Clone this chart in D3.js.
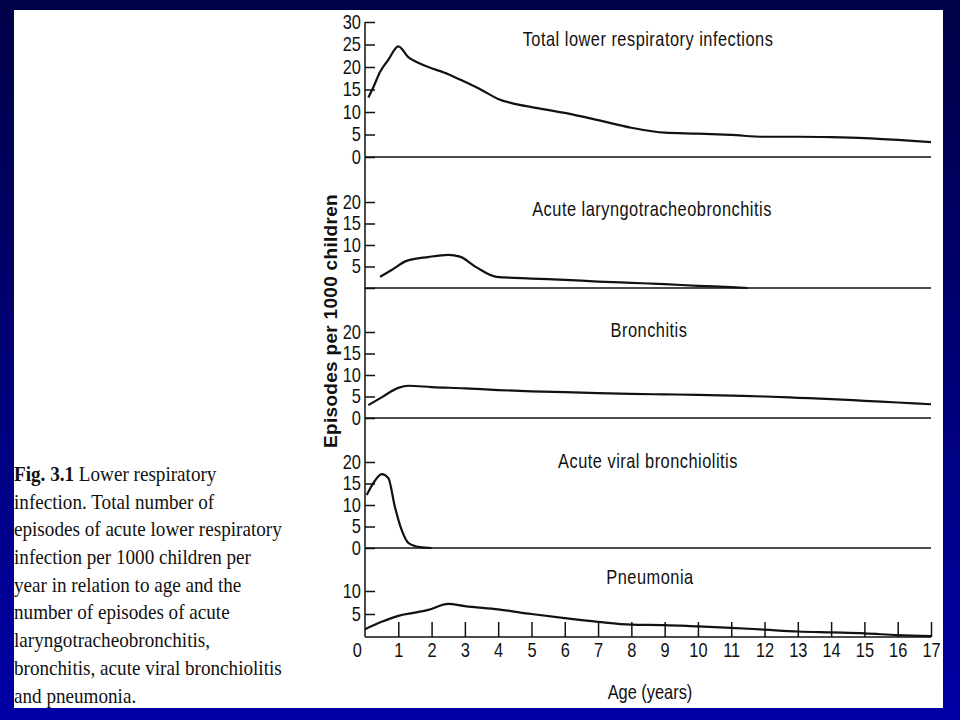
<!DOCTYPE html>
<html>
<head>
  <meta charset="utf-8">
  <title>Lower respiratory infection by age</title>
  <script src="https://d3js.org/d3.v7.min.js"></script>
  <style>
    body { margin: 0; }
    .narrow, .tick text { font-family: "Liberation Sans", Arial, sans-serif; font-size: 20px; fill: #111; }
    .title { letter-spacing: 0.6px; }
    .tick line, .axis-line, .zero { stroke: #111; stroke-width: 1.5; }
    .curve { fill: none; stroke: #111; stroke-width: 2.2; }
    .caption { font-family: "Liberation Serif", "Times New Roman", serif; font-size: 22px; fill: #111; }
  </style>
</head>
<body>

  <svg width="960" height="720"></svg>

  <script>
    // Ages (years) and episodes per 1000 children
    const totalAge = [0.1, 0.25, 0.45, 0.7, 1, 1.3, 1.55, 1.9, 2.5, 3, 3.5, 4, 4.5, 5, 6, 7, 8, 9, 10, 11, 12, 13, 14, 15, 16, 17];
    const totalVal = [13.2, 15.5, 18.9, 21.6, 24.6, 22.2, 21.1, 20, 18.4, 16.7, 14.9, 12.9, 11.8, 11.1, 9.8, 8.2, 6.5, 5.4, 5.2, 4.9, 4.5, 4.5, 4.4, 4.2, 3.8, 3.3];

    const laryngoAge = [0.45, 0.8, 1.25, 1.9, 2.5, 2.85, 3.35, 3.95, 5, 6, 7, 8, 9, 10, 11, 11.5];
    const laryngoVal = [2.6, 4.2, 6.3, 7.2, 7.7, 7.3, 4.8, 2.6, 2.2, 1.9, 1.5, 1.2, 0.9, 0.5, 0.2, 0];

    const bronchitisAge = [0.1, 0.5, 1, 1.3, 2, 3, 4, 5, 6, 7, 8, 9, 10, 11, 12, 13, 14, 15, 16, 17];
    const bronchitisVal = [3.0, 4.8, 7.0, 7.5, 7.2, 6.9, 6.5, 6.2, 6.0, 5.8, 5.6, 5.5, 5.4, 5.2, 5.0, 4.7, 4.4, 4.0, 3.6, 3.2];

    const bronchiolitisAge = [0.05, 0.25, 0.5, 0.7, 0.9, 1.1, 1.3, 1.65, 2];
    const bronchiolitisVal = [12.3, 15.1, 17.2, 16.3, 9.5, 4.2, 1.2, 0.2, 0];

    const pneumoniaAge = [0, 0.5, 1, 1.5, 1.9, 2.5, 3, 4, 5, 6, 7, 8, 9, 10, 11, 12, 13, 14, 15, 16, 17];
    const pneumoniaVal = [1.7, 3.3, 4.6, 5.3, 5.9, 7.2, 6.7, 6.0, 5.0, 4.1, 3.3, 2.7, 2.6, 2.3, 2.0, 1.6, 1.2, 1.0, 0.8, 0.4, 0.2];

    const panelTitles = ["Total lower respiratory infections", "Acute laryngotracheobronchitis", "Bronchitis", "Acute viral bronchiolitis", "Pneumonia"];
    const panelMax = [30, 20, 20, 20, 10];
    const panelTicks = [[0, 5, 10, 15, 20, 25, 30], [0, 5, 10, 15, 20], [0, 5, 10, 15, 20], [0, 5, 10, 15, 20], [5, 10]];
    const panelTickLabels = [[0, 5, 10, 15, 20, 25, 30], [5, 10, 15, 20], [0, 5, 10, 15, 20], [0, 5, 10, 15, 20], [5, 10]];
    const ageTicks = d3.range(0, 18);

    const captionLines = [
      "Lower respiratory",
      "infection. Total number of",
      "episodes of acute lower respiratory",
      "infection per 1000 children per",
      "year in relation to age and the",
      "number of episodes of acute",
      "laryngotracheobronchitis,",
      "bronchitis, acute viral bronchiolitis",
      "and pneumonia."
    ];

    const series = [
      [totalAge, totalVal],
      [laryngoAge, laryngoVal],
      [bronchitisAge, bronchitisVal],
      [bronchiolitisAge, bronchiolitisVal],
      [pneumoniaAge, pneumoniaVal]
    ];

    const squeeze = 0.82; // the printed figure uses a condensed face

    const svg = d3.select("svg");

    // slide background
    const grad = svg.append("defs").append("linearGradient")
      .attr("id", "bg").attr("x1", 0).attr("y1", 0).attr("x2", 0).attr("y2", 1);
    grad.append("stop").attr("offset", "0%").attr("stop-color", "#000046");
    grad.append("stop").attr("offset", "100%").attr("stop-color", "#0000a6");
    svg.append("rect").attr("width", 960).attr("height", 720).attr("fill", "url(#bg)");
    svg.append("rect").attr("x", 14).attr("y", 10).attr("width", 929).attr("height", 698).attr("fill", "#fff");

    const x = d3.scaleLinear().domain([0, 17]).range([365, 931]);

    // pixel baseline and top of each panel
    const panelBase = [157, 288, 418, 548, 637];
    const panelTop = [22, 202, 332, 462, 591];
    const titleY = [46, 216, 337, 468, 584];
    const titleX = [648, 652, 649, 648, 650];

    const ys = panelMax.map((m, i) => d3.scaleLinear().domain([0, m]).range([panelBase[i], panelTop[i]]));

    // long vertical axis
    svg.append("line").attr("class", "axis-line")
      .attr("x1", x(0)).attr("x2", x(0))
      .attr("y1", ys[0](30)).attr("y2", ys[4](0));

    const line = d3.line().curve(d3.curveMonotoneX);

    function narrowText(cx, cy, txt, cls) {
      return svg.append("text").attr("class", "narrow " + (cls || ""))
        .attr("transform", `translate(${cx},${cy}) scale(${squeeze},1)`)
        .attr("text-anchor", "middle")
        .text(txt);
    }

    ys.forEach((y, i) => {
      const labels = panelTickLabels[i];
      svg.append("g")
        .attr("transform", `translate(${x(0)},0)`)
        .call(d3.axisLeft(y).tickValues(panelTicks[i]).tickSize(-10).tickPadding(5)
          .tickFormat(d => labels.includes(d) ? d : ""))
        .call(g => g.select(".domain").remove())
        .call(g => g.selectAll("text").attr("transform", `scale(${squeeze},1)`));

      // zero line
      svg.append("line").attr("class", "zero")
        .attr("x1", x(0)).attr("x2", x(17))
        .attr("y1", y(0)).attr("y2", y(0));

      const [ages, vals] = series[i];
      svg.append("path").attr("class", "curve")
        .attr("d", line(ages.map((a, j) => [x(a), y(vals[j])])));

      narrowText(titleX[i], titleY[i], panelTitles[i], "title");
    });

    // age axis on the bottom panel, ticks pointing up
    const xAxis = svg.append("g")
      .attr("transform", `translate(0,${ys[4](0)})`)
      .call(d3.axisBottom(x).tickValues(ageTicks).tickSize(-15).tickPadding(6).tickFormat(d3.format("d")))
      .call(g => g.select(".domain").remove())
      .call(g => g.selectAll("text").attr("transform", `scale(${squeeze},1)`));
    xAxis.selectAll(".tick").filter(d => d === 0).select("line").remove();
    xAxis.selectAll(".tick").filter(d => d === 0).select("text").attr("x", -10);

    narrowText(650, 699, "Age (years)");

    svg.append("text")
      .attr("transform", "translate(337,321) rotate(-90)")
      .attr("text-anchor", "middle")
      .style("font-family", "Liberation Sans, Arial, sans-serif")
      .style("font-size", "19px")
      .style("font-weight", "bold")
      .style("letter-spacing", "0.3px")
      .style("fill", "#111")
      .text("Episodes per 1000 children");

    // figure caption
    const cap = svg.append("text").attr("class", "caption")
      .attr("transform", "translate(14,0) scale(0.87,1)");
    captionLines.forEach((t, i) => {
      const ts = cap.append("tspan").attr("x", 0).attr("y", 481 + i * 27.7);
      if (i === 0) {
        ts.append("tspan").style("font-weight", "bold").text("Fig. 3.1 ");
        ts.append("tspan").text(t);
      } else {
        ts.text(t);
      }
    });
  </script>

</body>
</html>
